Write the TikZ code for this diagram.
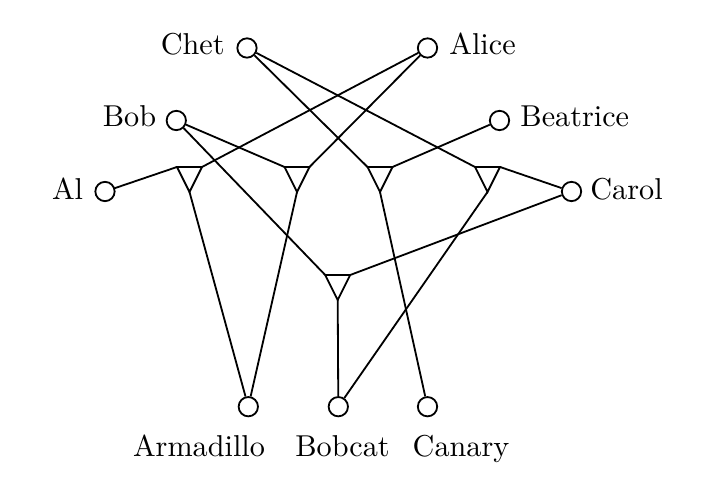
\documentclass[tikz,border=0pt]{standalone}
\begin{document}
\begin{tikzpicture}[x=0.3311pt,y=-0.3311pt,line width=0.6pt,
  vtx/.style={circle,draw,inner sep=0pt,minimum size=6.4pt},
  lbl/.style={inner sep=0pt,font=\fontsize{10}{12}\selectfont},
  gate/.style={draw,line join=miter}]
\useasboundingbox (0,0) rectangle (707,479);
% people
\node[vtx] (chet) at (247,48) {};
\node[vtx] (alice) at (427.5,48) {};
\node[vtx] (bob) at (176.3,120.5) {};
\node[vtx] (beatrice) at (499.5,120.5) {};
\node[vtx] (al) at (105,191.5) {};
\node[vtx] (carol) at (571.5,191.5) {};
\node[vtx] (armadillo) at (248.3,406.7) {};
\node[vtx] (bobcat) at (338.3,406.7) {};
\node[vtx] (canary) at (427.5,406.7) {};
% labels
\node[lbl,anchor=base east] (lchet) at (225.5,55) {Chet};
\node[lbl,anchor=base west] (lalice) at (448.5,55) {Alice};
\node[lbl,anchor=base east] (lbob) at (157,126.7) {Bob};
\node[lbl,anchor=base west] (lbeatrice) at (519.5,126.7) {Beatrice};
\node[lbl,anchor=base east] (lal) at (84,200) {Al};
\node[lbl,anchor=base west] (lcarol) at (589.5,200) {Carol};
\node[lbl,anchor=base] (larmadillo) at (199,457) {Armadillo};
\node[lbl,anchor=base] (lbobcat) at (342.5,457) {Bobcat};
\node[lbl,anchor=base] (lcanary) at (461,457) {Canary};
% gates: tip and two top corners
\coordinate (t1) at (189.5,192); \coordinate (t1l) at (177,167); \coordinate (t1r) at (202,167);
\coordinate (t2) at (297,192); \coordinate (t2l) at (284.5,167); \coordinate (t2r) at (309.5,167);
\coordinate (t3) at (380,192); \coordinate (t3l) at (367.5,167); \coordinate (t3r) at (392.5,167);
\coordinate (t4) at (487.5,192); \coordinate (t4l) at (475,167); \coordinate (t4r) at (500,167);
\coordinate (t5) at (337.7,300); \coordinate (t5l) at (325.2,275); \coordinate (t5r) at (350.2,275);
\foreach \g in {t1,t2,t3,t4,t5} \draw[gate] (\g l) -- (\g r) -- (\g) -- cycle;
% connections
\draw (al) -- (t1l);
\draw (alice) -- (t1r);
\draw (t1) -- (armadillo);
\draw (bob) -- (t2l);
\draw (alice) -- (t2r);
\draw (t2) -- (armadillo);
\draw (chet) -- (t3l);
\draw (beatrice) -- (t3r);
\draw (t3) -- (canary);
\draw (chet) -- (t4l);
\draw (carol) -- (t4r);
\draw (t4) -- (bobcat);
\draw (bob) -- (t5l);
\draw (carol) -- (t5r);
\draw (t5) -- (bobcat);
\end{tikzpicture}
\end{document}
